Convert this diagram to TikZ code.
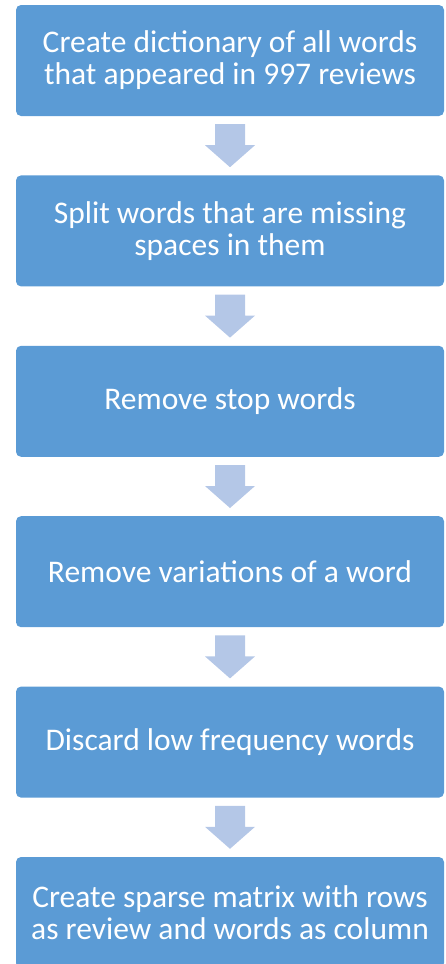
\documentclass[tikz,border=0pt]{standalone}
\usepackage{fontspec}
\setmainfont{Carlito}
\usepackage{tikz}
\usetikzlibrary{positioning,calc}
\definecolor{boxc}{HTML}{5B9BD5}
\definecolor{arrowc}{HTML}{B4C7E7}
\tikzset{
  stepbox/.style={fill=boxc, rounded corners=5pt, text=white, minimum width=428pt,
    minimum height=111pt, align=center, inner sep=0pt,
    font=\fontsize{31.5pt}{32pt}\selectfont}
}
\newcommand{\blockarrow}[2]{%
  \fill[arrowc] ($(#1.south)+(-15pt,-8pt)$) -- ++(30pt,0) -- ++(0,-21pt) -- ++(10pt,0)
    -- ($(#2.north)+(0,8pt)$) -- ($(#1.south)+(-25pt,-29pt)$) -- ++(10pt,0) -- cycle;
}

\begin{document}
\begin{tikzpicture}[x=1pt,y=1pt, node distance=59pt]
  \useasboundingbox (0,0) rectangle (445,-964);
  \clip (0,0) rectangle (445,-964);
  % steps
  \node[stepbox] (dict) at (230,-60.5) {Create dictionary of all words\\that appeared in 997 reviews};
  \node[stepbox, below=of dict] (split) {Split words that are missing\\spaces in them};
  \node[stepbox, below=of split] (stop) {Remove stop words};
  \node[stepbox, below=of stop] (vari) {Remove variations of a word};
  \node[stepbox, below=of vari] (low) {Discard low frequency words};
  \node[stepbox, below=of low] (sparse) {Create sparse matrix with rows\\as review and words as column};
  % arrows between steps
  \foreach \a/\b in {dict/split,split/stop,stop/vari,vari/low,low/sparse} {\blockarrow{\a}{\b}}
\end{tikzpicture}
\end{document}
